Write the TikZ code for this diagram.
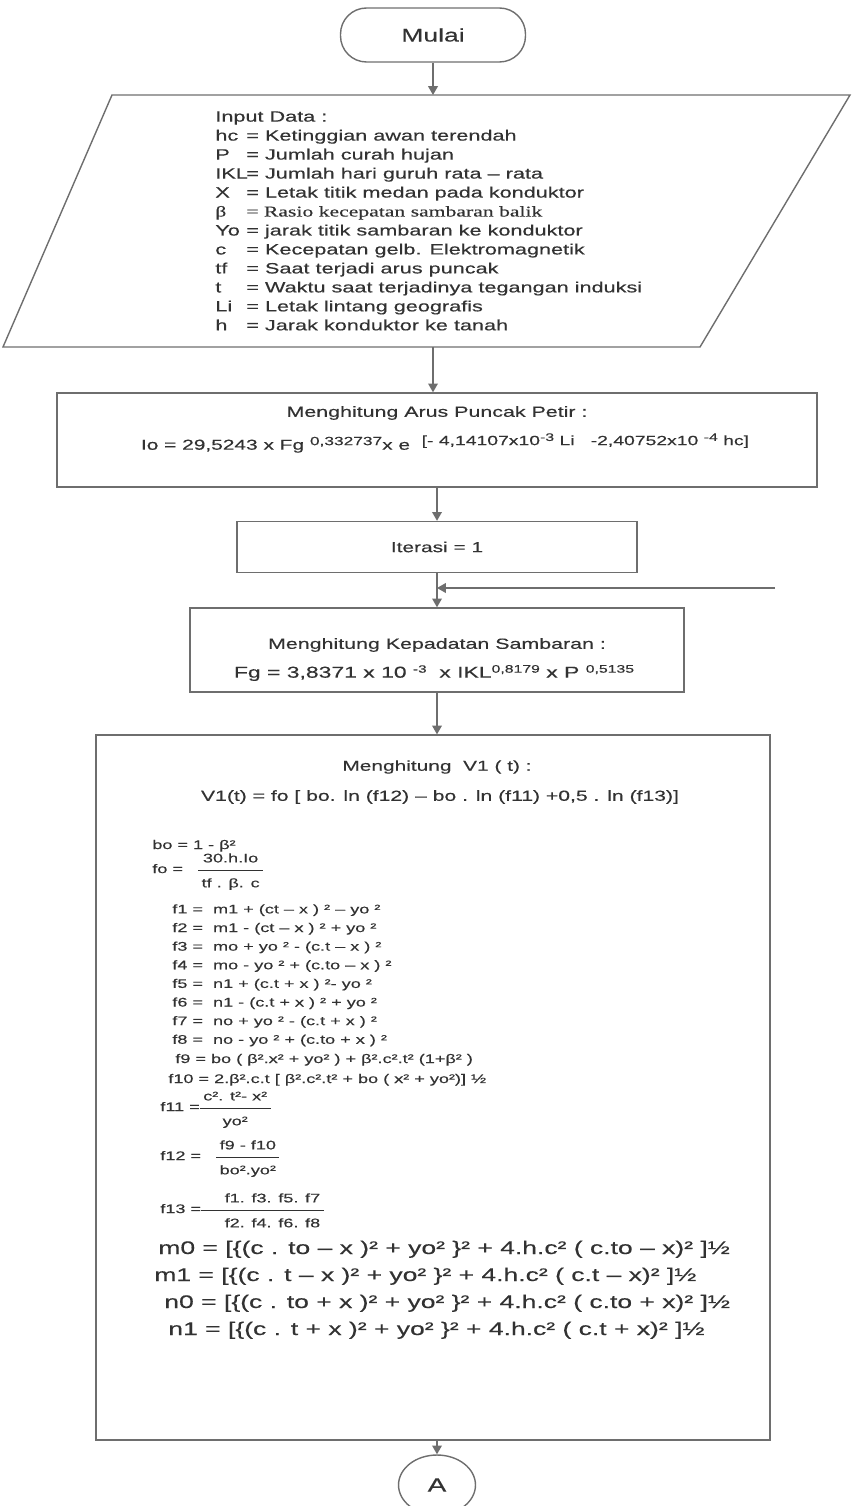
\documentclass[tikz,border=0pt]{standalone}
\usepackage{fontspec}
\setmainfont{Liberation Sans}[FakeStretch=1.45,FakeBold=0.35]
\newfontfamily\serfont{Liberation Serif}[FakeStretch=1.45,FakeBold=0.35]
\usepackage{tikz}
\usetikzlibrary{arrows.meta,shapes.geometric,positioning}
\definecolor{inkgray}{RGB}{50,50,50}
\definecolor{linegray}{RGB}{110,110,110}
\newcommand{\lbl}[1]{\makebox[0.62cm][l]{#1}}
\newcommand{\pangkat}[2][5.5]{\raisebox{0.6ex}{\fontsize{#1}{#1}\selectfont #2}}
\newcommand{\frc}[2]{\renewcommand{\arraystretch}{1.3}\begin{tabular}[c]{@{\hspace{2pt}}c@{\hspace{2pt}}}#1\\\hline #2\end{tabular}}

\begin{document}
\begin{tikzpicture}[x=0.02cm,y=-0.02cm,
  every node/.style={text=inkgray},
  flowline/.style={draw=linegray,line width=0.8pt},
  arr/.style={flowline,-{Triangle[width=5.5pt,length=5pt]}},
  procbox/.style={flowline,rectangle,inner sep=0pt},
  eqtext/.style={anchor=base west,inner sep=0pt,font=\fontsize{7.1}{10.6}\selectfont},
  bigeq/.style={anchor=base west,inner sep=0pt,font=\fontsize{10.4}{12}\selectfont}]
\useasboundingbox (0,0) rectangle (854,1506);
\clip (0,0) rectangle (854,1506);

% mulai
\node[flowline,rectangle,rounded corners=0.52cm,minimum width=3.7cm,minimum height=1.08cm,
  font=\fontsize{10.4}{12}\selectfont] (mulai) at (433,35) {Mulai};

% input data
\draw[flowline] (112,95) -- (850,95) -- (700,347) -- (3,347) -- cycle;
\coordinate (intop) at (433,95);
\coordinate (inbot) at (433,347);
\node[anchor=north west,align=left,inner sep=0pt,font=\fontsize{8.5}{10.8}\selectfont] (inputdata) at (215,111) {%
Input Data :\\
\lbl{hc}= Ketinggian awan terendah\\
\lbl{P}= Jumlah curah hujan\\
\lbl{IKL}= Jumlah hari guruh rata -- rata\\
\lbl{X}= Letak titik medan pada konduktor\\
{\serfont\lbl{β}= Rasio kecepatan sambaran balik}\\
\lbl{Yo}= jarak titik sambaran ke konduktor\\
\lbl{c}= Kecepatan gelb. Elektromagnetik\\
\lbl{tf}= Saat terjadi arus puncak\\
\lbl{t}= Waktu saat terjadinya tegangan induksi\\
\lbl{Li}= Letak lintang geografis\\
\lbl{h}= Jarak konduktor ke tanah};
\draw[arr] (mulai) -- (intop);

% arus puncak
\node[procbox,minimum width=15.2cm,minimum height=1.88cm] (arus) at (437,440) {};
\node[font=\fontsize{8.4}{10}\selectfont] (arusjudul) at (437,413) {Menghitung Arus Puncak Petir :};
\node[font=\fontsize{8.2}{9}\selectfont] (arusrumus) at (445,443)
  {Io = 29,5243 x Fg~\pangkat[6.8]{0,332737}x e~~\pangkat[7.6]{[- 4,14107x10\pangkat[6.2]{-3} Li~~~-2,40752x10~\pangkat[6.2]{-4} hc]}};
\draw[arr] (inbot) -- (inbot |- arus.north);

% iterasi
\node[procbox,minimum width=8cm,minimum height=1.02cm,font=\fontsize{8.2}{10}\selectfont] (iterasi) at (437,547) {Iterasi = 1};
\draw[arr] (arus) -- (iterasi);

% kepadatan sambaran
\node[procbox,minimum width=9.88cm,minimum height=1.68cm] (padat) at (437,650) {};
\node[font=\fontsize{8.4}{10}\selectfont] (padatjudul) at (437,645) {Menghitung Kepadatan Sambaran :};
\node[font=\fontsize{9}{10}\selectfont] (padatrumus) at (434,673)
  {Fg = 3,8371 x 10~\pangkat[6]{-3}~~x IKL\pangkat[6.2]{0,8179} x P~\pangkat[6.2]{0,5135}};
\draw[arr] (iterasi) -- (padat);
\coordinate (balik) at (775,588);
\coordinate (gabung) at (437,588);
\draw[arr] (balik) -- (gabung);

% tegangan induksi
\node[procbox,minimum width=13.48cm,minimum height=14.1cm] (volt) at (433,1087.5) {};
\draw[arr] (padat) -- (padat |- volt.north);
\node[font=\fontsize{8.2}{10}\selectfont] (voltjudul) at (437,767) {Menghitung~~V1 ( t) :};
\node[font=\fontsize{8.3}{10}\selectfont] (voltrumus) at (440,797)
  {V1(t) = fo [ bo. ln (f12) -- bo . ln (f11) +0,5 . ln (f13)]};
\node[eqtext] (bo) at (152,849) {bo = 1 - β²};
\node[eqtext,anchor=west] (fo) at (152,870) {fo = ~~\frc{30.h.Io}{tf . β. c}};
\node[eqtext,anchor=north west,align=left] (fsatu) at (172,904) {%
f1 = ~m1 + (ct -- x ) ² -- yo ²\\
f2 = ~m1 - (ct -- x ) ² + yo ²\\
f3 = ~mo + yo ² - (c.t -- x ) ²\\
f4 = ~mo - yo ² + (c.to -- x ) ²\\
f5 = ~n1 + (c.t + x ) ²- yo ²\\
f6 = ~n1 - (c.t + x ) ² + yo ²\\
f7 = ~no + yo ² - (c.t + x ) ²\\
f8 = ~no - yo ² + (c.to + x ) ²};
\node[eqtext] (fsembilan) at (175,1063) {f9 = bo ( β².x² + yo² ) + β².c².t² (1+β² )};
\node[eqtext] (fsepuluh) at (168,1083) {f10 = 2.β².c.t [ β².c².t² + bo ( x² + yo²)] ½};
\node[eqtext,anchor=west] (fsebelas) at (160,1108) {f11 =\frc{c². t²- x²}{yo²}};
\node[eqtext,anchor=west] (fduabelas) at (160,1157) {f12 = ~~\frc{f9 - f10}{bo².yo²}};
\node[eqtext,anchor=west] (ftigabelas) at (160,1210) {f13 =\frc{~~~~f1. f3. f5. f7}{~~~~f2. f4. f6. f8}};
\node[bigeq] (mnol) at (158,1254) {m0 = [\{(c . to -- x )² + yo² \}² + 4.h.c² ( c.to -- x)² ]½};
\node[bigeq] (msatu) at (154,1281) {m1 = [\{(c . t -- x )² + yo² \}² + 4.h.c² ( c.t -- x)² ]½};
\node[bigeq] (nnol) at (164,1308) {n0 = [\{(c . to + x )² + yo² \}² + 4.h.c² ( c.to + x)² ]½};
\node[bigeq] (nsatu) at (168,1335) {n1 = [\{(c . t + x )² + yo² \}² + 4.h.c² ( c.t + x)² ]½};

% konektor A
\node[flowline,ellipse,minimum width=1.54cm,minimum height=1.2cm,font=\fontsize{11}{12}\selectfont] (konA) at (437,1485) {A};
\draw[arr] (volt.south -| konA) -- (konA);
\end{tikzpicture}
\end{document}
